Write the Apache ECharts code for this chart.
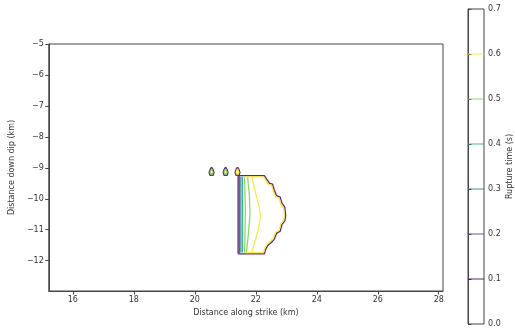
<!DOCTYPE html>
<html><head><meta charset="utf-8">
<script src="https://cdn.jsdelivr.net/npm/echarts@6/dist/echarts.min.js"></script>
<style>html,body{margin:0;padding:0;background:#fff}#c{width:515px;height:331px}</style>
</head><body><div id="c"></div>
<script>
// ---- data ----
const xTicks = [16, 18, 20, 22, 24, 26, 28];
const yTicks = [-12, -11, -10, -9, -8, -7, -6, -5];
const cbTicks = [0.0, 0.1, 0.2, 0.3, 0.4, 0.5, 0.6, 0.7];
const levels = [0.1, 0.2, 0.3, 0.4, 0.5, 0.6];
const levelColors = ['#440154', '#414487', '#2a788e', '#22a884', '#7ad151', '#fde725'];

// contour paths (km along strike, km down dip)
const c01Outer = [[21.42,-11.78],[21.42,-9.27],[21.50,-9.25],[22.28,-9.25],[22.45,-9.50],[22.55,-9.53],[22.60,-9.70],[22.68,-9.90],[22.80,-9.95],[22.86,-10.15],[22.95,-10.27],[22.98,-10.55],[22.95,-10.72],[22.86,-10.83],[22.80,-11.05],[22.68,-11.12],[22.60,-11.32],[22.50,-11.42],[22.40,-11.50],[22.33,-11.62],[22.28,-11.78],[21.42,-11.78]];
const c02Left = [[21.46,-9.28],[21.46,-11.75]];
const c03Left = [[21.51,-9.29],[21.51,-11.74]];
const c04Left = [[21.56,-9.29],[21.57,-10.50],[21.56,-11.74]];
const c05Left = [[21.63,-9.29],[21.66,-10.40],[21.63,-11.74]];
const c05Inner = [[21.73,-9.29],[21.79,-9.90],[21.81,-10.50],[21.75,-11.20],[21.69,-11.74]];
const c06Inner = [[21.87,-9.29],[21.99,-9.80],[22.12,-10.30],[22.15,-10.60],[22.08,-11.00],[21.98,-11.35],[21.86,-11.74]];
const c06Outer = [[21.68,-9.29],[22.25,-9.29],[22.41,-9.54],[22.52,-9.57],[22.56,-9.73],[22.65,-9.94],[22.77,-9.99],[22.82,-10.18],[22.91,-10.30],[22.94,-10.55],[22.91,-10.70],[22.82,-10.80],[22.76,-11.02],[22.64,-11.09],[22.56,-11.29],[22.47,-11.38],[22.36,-11.47],[22.29,-11.60],[22.25,-11.74],[21.68,-11.74]];
const drop1Outer = [[20.55,-8.98],[20.60,-9.06],[20.63,-9.15],[20.60,-9.24],[20.55,-9.27],[20.50,-9.24],[20.47,-9.15],[20.50,-9.06],[20.55,-8.98]];
const drop1Inner = [[20.55,-9.03],[20.58,-9.09],[20.60,-9.15],[20.58,-9.21],[20.55,-9.23],[20.52,-9.21],[20.50,-9.15],[20.52,-9.09],[20.55,-9.03]];
const drop2Outer = [[21.01,-8.98],[21.06,-9.06],[21.09,-9.15],[21.06,-9.24],[21.01,-9.27],[20.96,-9.24],[20.93,-9.15],[20.96,-9.06],[21.01,-8.98]];
const drop2Inner = [[21.01,-9.03],[21.04,-9.09],[21.06,-9.15],[21.04,-9.21],[21.01,-9.23],[20.98,-9.21],[20.96,-9.15],[20.98,-9.09],[21.01,-9.03]];
const drop3Outer = [[21.40,-8.98],[21.45,-9.06],[21.48,-9.15],[21.45,-9.24],[21.40,-9.27],[21.35,-9.24],[21.32,-9.15],[21.35,-9.06],[21.40,-8.98]];
const drop3Inner = [[21.40,-9.03],[21.43,-9.09],[21.45,-9.15],[21.43,-9.21],[21.40,-9.23],[21.37,-9.21],[21.35,-9.15],[21.37,-9.09],[21.40,-9.03]];

const contours = [
  {lvl: 0, pts: c01Outer}, {lvl: 1, pts: c02Left}, {lvl: 2, pts: c03Left},
  {lvl: 3, pts: c04Left}, {lvl: 4, pts: c05Left}, {lvl: 4, pts: c05Inner},
  {lvl: 5, pts: c06Inner}, {lvl: 5, pts: c06Outer},
  {lvl: 0, pts: drop1Outer}, {lvl: 4, pts: drop1Inner},
  {lvl: 0, pts: drop2Outer}, {lvl: 4, pts: drop2Inner},
  {lvl: 0, pts: drop3Outer}, {lvl: 5, pts: drop3Inner}
];

// ---- chart ----
const FONT = 'DejaVu Sans';
const TXT = '#333';
const AX = '#444';
const minus = v => String(v).replace('-', '\u2212');

const series = contours.map(c => ({
  type: 'line', xAxisIndex: 0, yAxisIndex: 0, data: c.pts,
  showSymbol: false, symbol: 'none', silent: true, smooth: false,
  lineStyle: {color: levelColors[c.lvl], width: 1.3, opacity: 0.85}
}));
levels.forEach((l, i) => series.push({
  type: 'line', xAxisIndex: 1, yAxisIndex: 1, data: [[0, l], [1, l]],
  showSymbol: false, symbol: 'none', silent: true,
  lineStyle: {color: levelColors[i], width: 1.2, opacity: 0.85}
}));

const chart = echarts.init(document.getElementById('c'), null, {renderer: 'canvas'});
chart.setOption({
  animation: false,
  backgroundColor: '#fff',
  grid: [
    {left: 45, top: 44, width: 398, height: 247, show: true, borderColor: AX, borderWidth: 1, containLabel: false},
    {left: 468, top: 9, width: 16, height: 315, show: true, borderColor: AX, borderWidth: 1, containLabel: false}
  ],
  xAxis: [
    {type: 'value', gridIndex: 0, min: 15.21, max: 28.14,
     name: 'Distance along strike (km)', nameLocation: 'middle', nameGap: 18,
     nameTextStyle: {fontFamily: FONT, fontSize: 8, color: TXT},
     axisLine: {show: true, lineStyle: {color: AX}},
     axisTick: {show: true, length: 3.5, customValues: xTicks, lineStyle: {color: AX}},
     axisLabel: {customValues: xTicks, fontFamily: FONT, fontSize: 8, color: TXT, margin: 5},
     splitLine: {show: false}},
    {type: 'value', gridIndex: 1, min: 0, max: 1, show: false}
  ],
  yAxis: [
    {type: 'value', gridIndex: 0, min: -12.98, max: -5,
     name: 'Distance down dip (km)', nameLocation: 'middle', nameGap: 31, nameRotate: 90,
     nameTextStyle: {fontFamily: FONT, fontSize: 8, color: TXT},
     axisLine: {show: true, lineStyle: {color: AX}},
     axisTick: {show: true, length: 3.5, customValues: yTicks, lineStyle: {color: AX}},
     axisLabel: {customValues: yTicks, fontFamily: FONT, fontSize: 8, color: TXT, margin: 5, formatter: minus},
     splitLine: {show: false}},
    {type: 'value', gridIndex: 1, min: 0, max: 0.7, position: 'right',
     name: 'Rupture time (s)', nameLocation: 'middle', nameGap: 22, nameRotate: 90,
     nameTextStyle: {fontFamily: FONT, fontSize: 8, color: TXT},
     axisLine: {show: true, lineStyle: {color: AX}},
     axisTick: {show: true, length: 3.5, customValues: cbTicks, lineStyle: {color: AX}},
     axisLabel: {customValues: cbTicks, fontFamily: FONT, fontSize: 8, color: TXT, margin: 4, formatter: v => Number(v).toFixed(1)},
     splitLine: {show: false}}
  ],
  series: series
});
</script></body></html>
